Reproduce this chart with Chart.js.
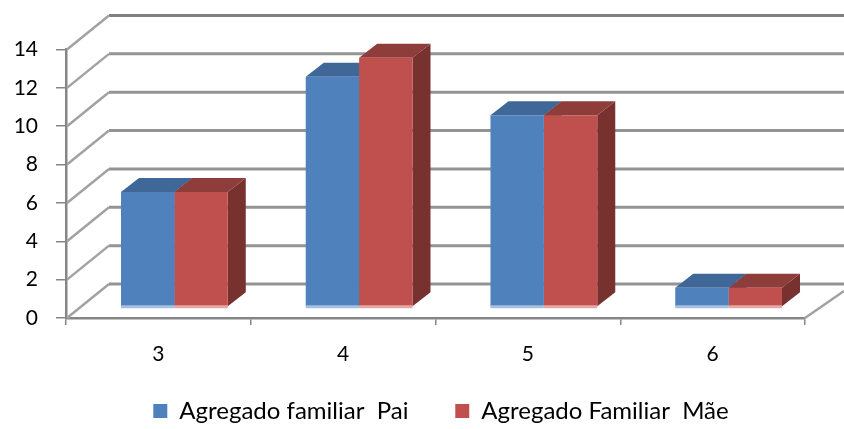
<!DOCTYPE html>
<html><head><meta charset="utf-8">
<style>html,body{margin:0;padding:0;background:#fff}#w{width:844px;height:429px}</style>
<script src="https://cdn.jsdelivr.net/npm/chart.js@4"></script></head>
<body><div id="w"><canvas id="c"></canvas></div>
<script>
const categories = ['3','4','5','6'];
const pai = [6,12,10,1];
const mae = [6,13,10,1];
const seriesNames = ['Agregado familiar  Pai','Agregado Familiar  Mãe'];
const colors = ['#4f81bd','#c0504d'];
const topColors = ['#3f6797','#8f3d3b'];
const sideColors = ['#3a5e8a','#77312f'];
const edgeColors = ['#a7c0de','#e5a8a6'];
const FONT = 'Lato, "Open Sans", sans-serif';
const wallDX = 43, wallDY = -34, barDX = 16, barDY = -11, depthX = 18, depthY = -14;

function poly(ctx, pts, fill){
  ctx.fillStyle = fill; ctx.beginPath();
  pts.forEach((p,i)=> i ? ctx.lineTo(p[0],p[1]) : ctx.moveTo(p[0],p[1]));
  ctx.closePath(); ctx.fill();
}
const threeD = {
  id:'threeD',
  afterLayout(chart){
    const lg = chart.legend;
    const h = lg.bottom - lg.top;
    lg.left += 19; lg.right += 19;
    lg.top = 411 - h/2; lg.bottom = lg.top + h;
  },
  beforeDatasetsDraw(chart){
    const {ctx, scales:{x,y}} = chart;
    const L = x.left, R = x.right, W = chart.width;
    ctx.save();
    ctx.lineCap = 'butt';
    y.ticks.forEach(t=>{
      const py = y.getPixelForValue(t.value);
      ctx.strokeStyle = t.value === 14 ? '#808080' : '#949494';
      ctx.lineWidth = 3;
      ctx.beginPath(); ctx.moveTo(L+wallDX, py+wallDY); ctx.lineTo(W, py+wallDY); ctx.stroke();
      ctx.strokeStyle = '#a2a2a2'; ctx.lineWidth = 2.5;
      ctx.beginPath(); ctx.moveTo(L+1, py); ctx.lineTo(L+wallDX, py+wallDY); ctx.stroke();
    });
    const y0 = y.getPixelForValue(0);
    ctx.beginPath(); ctx.moveTo(R, y0); ctx.lineTo(W, y0-27); ctx.stroke();
    ctx.restore();
    ctx.save();
    ctx.translate(barDX, barDY);
    chart.data.datasets.forEach((d,i)=>{
      chart.getDatasetMeta(i).data.forEach(b=>{
        const l = b.x-b.width/2, r = b.x+b.width/2, t = b.y, bt = b.base;
        poly(ctx, [[r,t],[r+depthX,t+depthY],[r+depthX,bt+depthY],[r,bt]], sideColors[i]);
        poly(ctx, [[l,t],[r,t],[r+depthX,t+depthY],[l+depthX,t+depthY]], topColors[i]);
      });
    });
  },
  afterDatasetsDraw(chart){
    const {ctx} = chart;
    chart.data.datasets.forEach((d,i)=>{
      chart.getDatasetMeta(i).data.forEach(b=>{
        const l = b.x-b.width/2;
        ctx.fillStyle = edgeColors[i];
        ctx.fillRect(l, b.base-1, b.width, 3);
      });
    });
    ctx.restore();
  }
};

new Chart(document.getElementById('c'), {
  type:'bar',
  data:{labels:categories, datasets:[
    {label:seriesNames[0], data:pai, backgroundColor:colors[0], clip:false},
    {label:seriesNames[1], data:mae, backgroundColor:colors[1], clip:false}
  ]},
  plugins:[threeD],
  options:{
    responsive:true, maintainAspectRatio:false, animation:false,
    layout:{padding:{top:49.5,left:0,right:0,bottom:0}},
    datasets:{bar:{categoryPercentage:0.578, barPercentage:1}},
    plugins:{
      tooltip:{enabled:false},
      legend:{position:'bottom', labels:{
        boxWidth:14, boxHeight:14, padding:10, color:'#000', font:{family:FONT,size:24},
        generateLabels(chart){
          const items = Chart.defaults.plugins.legend.labels.generateLabels(chart);
          items[0].text += ' '.repeat(6);
          return items;
        }
      }}
    },
    scales:{
      x:{
        offset:true,
        grid:{offset:true, drawOnChartArea:false, color:'#868686', lineWidth:1.5, tickLength:7},
        border:{color:'#868686', width:2.5},
        ticks:{color:'#000', padding:17, maxRotation:0, font:{family:FONT,size:21}},
        afterFit(s){ s.height = 67; }
      },
      y:{
        min:0, max:14,
        grid:{drawOnChartArea:false, color:'#868686', lineWidth:1.5, tickLength:10},
        border:{color:'#868686', width:2.5},
        ticks:{stepSize:2, color:'#000', padding:18, font:{family:FONT,size:21}},
        afterFit(s){ s.width = 66; }
      },
      yR:{
        position:'right', display:true, min:0, max:14,
        grid:{display:false}, border:{display:false}, ticks:{display:false},
        afterFit(s){ s.width = 39; }
      }
    }
  }
});
</script></body></html>
